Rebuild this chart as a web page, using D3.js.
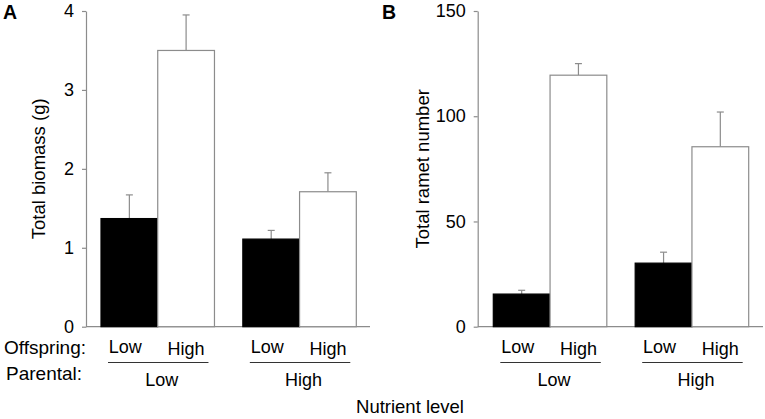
<!DOCTYPE html>
<html>
<head>
<meta charset="utf-8">
<script src="https://cdn.jsdelivr.net/npm/d3@7"></script>
<style>
  body { margin: 0; background: #fff; }
  text { font-family: Arial, "Liberation Sans", sans-serif; fill: #000; }
</style>
</head>
<body>
<svg id="chart" width="765" height="419"></svg>
<script>
// data
var parental = ["Low", "High"];
var offspring = ["Low", "High"];
var biomassMean = [1.37, 3.50, 1.11, 1.71];
var biomassErr  = [0.30, 0.45, 0.11, 0.24];
var rametMean = [15.5, 119.5, 30.2, 85.5];
var rametErr  = [1.8, 5.5, 5.2, 16.5];
var biomassTicks = [0, 1, 2, 3, 4];
var rametTicks = [0, 50, 100, 150];

var svg = d3.select("#chart");
var grey = "#8c8c8c";
var fs = 18;

var panels = [
  {letter: "A", letterX: 3, axisX: 86, axisEnd: 370, barStart: 101, barEnd: 356.3,
   ymax: 4, ticks: biomassTicks, mean: biomassMean, err: biomassErr,
   title: "Total biomass (g)", titleX: 45, showOffspring: true},
  {letter: "B", letterX: 382, axisX: 477.7, axisEnd: 763, barStart: 493.3, barEnd: 748.7,
   ymax: 150, ticks: rametTicks, mean: rametMean, err: rametErr,
   title: "Total ramet number", titleX: 429, showOffspring: false}
];

var yTop = 11, yBottom = 326.7;

panels.forEach(function(p)
{
  var g = svg.append("g");

  var y = d3.scaleLinear()
            .domain([0, p.ymax])
            .range([yBottom, yTop]);

  var xGroup = d3.scaleBand()
                 .domain(parental)
                 .range([p.barStart, p.barEnd])
                 .paddingInner(0.2);

  var xInner = d3.scaleBand()
                 .domain(offspring)
                 .range([0, xGroup.bandwidth()]);

  var rows = [];
  parental.forEach(function(par, i){
    offspring.forEach(function(off, j){
      rows.push({par: par, off: off, mean: p.mean[i*2+j], err: p.err[i*2+j]});
    });
  });

  // x axis line
  g.append("line")
   .attr("x1", p.axisX).attr("x2", p.axisEnd)
   .attr("y1", yBottom).attr("y2", yBottom)
   .attr("stroke", grey).attr("stroke-width", 1.2);

  // error bars (drawn before the bars so the bar covers the stem)
  var eb = g.selectAll(".err").data(rows).enter().append("g").classed("err", true);
  eb.append("line")
    .attr("x1", function(d){ return xGroup(d.par) + xInner(d.off) + xInner.bandwidth()/2; })
    .attr("x2", function(d){ return xGroup(d.par) + xInner(d.off) + xInner.bandwidth()/2; })
    .attr("y1", function(d){ return y(d.mean); })
    .attr("y2", function(d){ return y(d.mean + d.err); })
    .attr("stroke", grey).attr("stroke-width", 1.2);
  eb.append("line")
    .attr("x1", function(d){ return xGroup(d.par) + xInner(d.off) + xInner.bandwidth()/2 - 3.5; })
    .attr("x2", function(d){ return xGroup(d.par) + xInner(d.off) + xInner.bandwidth()/2 + 3.5; })
    .attr("y1", function(d){ return y(d.mean + d.err); })
    .attr("y2", function(d){ return y(d.mean + d.err); })
    .attr("stroke", grey).attr("stroke-width", 1.2);

  // bars
  g.selectAll(".bar").data(rows).enter().append("rect")
   .classed("bar", true)
   .attr("x", function(d){ return xGroup(d.par) + xInner(d.off); })
   .attr("y", function(d){ return y(d.mean); })
   .attr("width", xInner.bandwidth())
   .attr("height", function(d){ return yBottom - y(d.mean); })
   .attr("fill", function(d){ return d.off === "Low" ? "#000" : "#fff"; })
   .attr("stroke", function(d){ return d.off === "Low" ? "#000" : grey; })
   .attr("stroke-width", 1.2);

  // y axis
  var yAxis = g.append("g")
               .attr("transform", "translate(" + p.axisX + ",0)")
               .call(d3.axisLeft(y).tickValues(p.ticks).tickFormat(d3.format("d"))
                       .tickSize(4).tickSizeOuter(0).tickPadding(8));
  yAxis.select(".domain").attr("stroke", grey).attr("stroke-width", 1.2);
  yAxis.selectAll(".tick line").attr("stroke", grey).attr("stroke-width", 1.2);
  yAxis.selectAll(".tick text")
       .attr("font-size", fs)
       .attr("font-family", "Arial, 'Liberation Sans', sans-serif")
       .attr("fill", "#000");

  // y title
  g.append("text")
   .text(p.title)
   .attr("font-size", 18.5)
   .attr("text-anchor", "middle")
   .attr("transform", "translate(" + p.titleX + "," + ((yTop + yBottom)/2) + ") rotate(-90)");

  // panel letter
  g.append("text")
   .text(p.letter)
   .attr("x", p.letterX)
   .attr("y", 18.5)
   .attr("font-size", 19.5)
   .attr("font-weight", "bold");

  // offspring labels
  g.selectAll(".off").data(rows).enter().append("text")
   .text(function(d){ return d.off; })
   .attr("x", function(d){ return xGroup(d.par) + xInner(d.off) + xInner.bandwidth()/2 - (d.off === "Low" ? 4 : 0); })
   .attr("y", function(d){ return d.off === "Low" ? 353 : 354.5; })
   .attr("font-size", fs)
   .attr("text-anchor", "middle");

  // group underline
  g.selectAll(".grpline").data(parental).enter().append("line")
   .attr("x1", function(d){ return xGroup(d) + 7; })
   .attr("x2", function(d){ return xGroup(d) + xGroup.bandwidth() - 6; })
   .attr("y1", 362.5).attr("y2", 362.5)
   .attr("stroke", "#333").attr("stroke-width", 1.2);

  // parental labels
  g.selectAll(".par").data(parental).enter().append("text")
   .text(function(d){ return d; })
   .attr("x", function(d){ return xGroup(d) + xGroup.bandwidth()/2 + 4; })
   .attr("y", 386)
   .attr("font-size", fs)
   .attr("text-anchor", "middle");

  if (p.showOffspring)
  {
    g.append("text").text("Offspring:").attr("x", 4).attr("y", 354).attr("font-size", 19);
    g.append("text").text("Parental:").attr("x", 6).attr("y", 380).attr("font-size", 19);
  }
});

svg.append("text")
   .text("Nutrient level")
   .attr("x", 410)
   .attr("y", 413)
   .attr("font-size", 18.5)
   .attr("text-anchor", "middle");
</script>
</body>
</html>
